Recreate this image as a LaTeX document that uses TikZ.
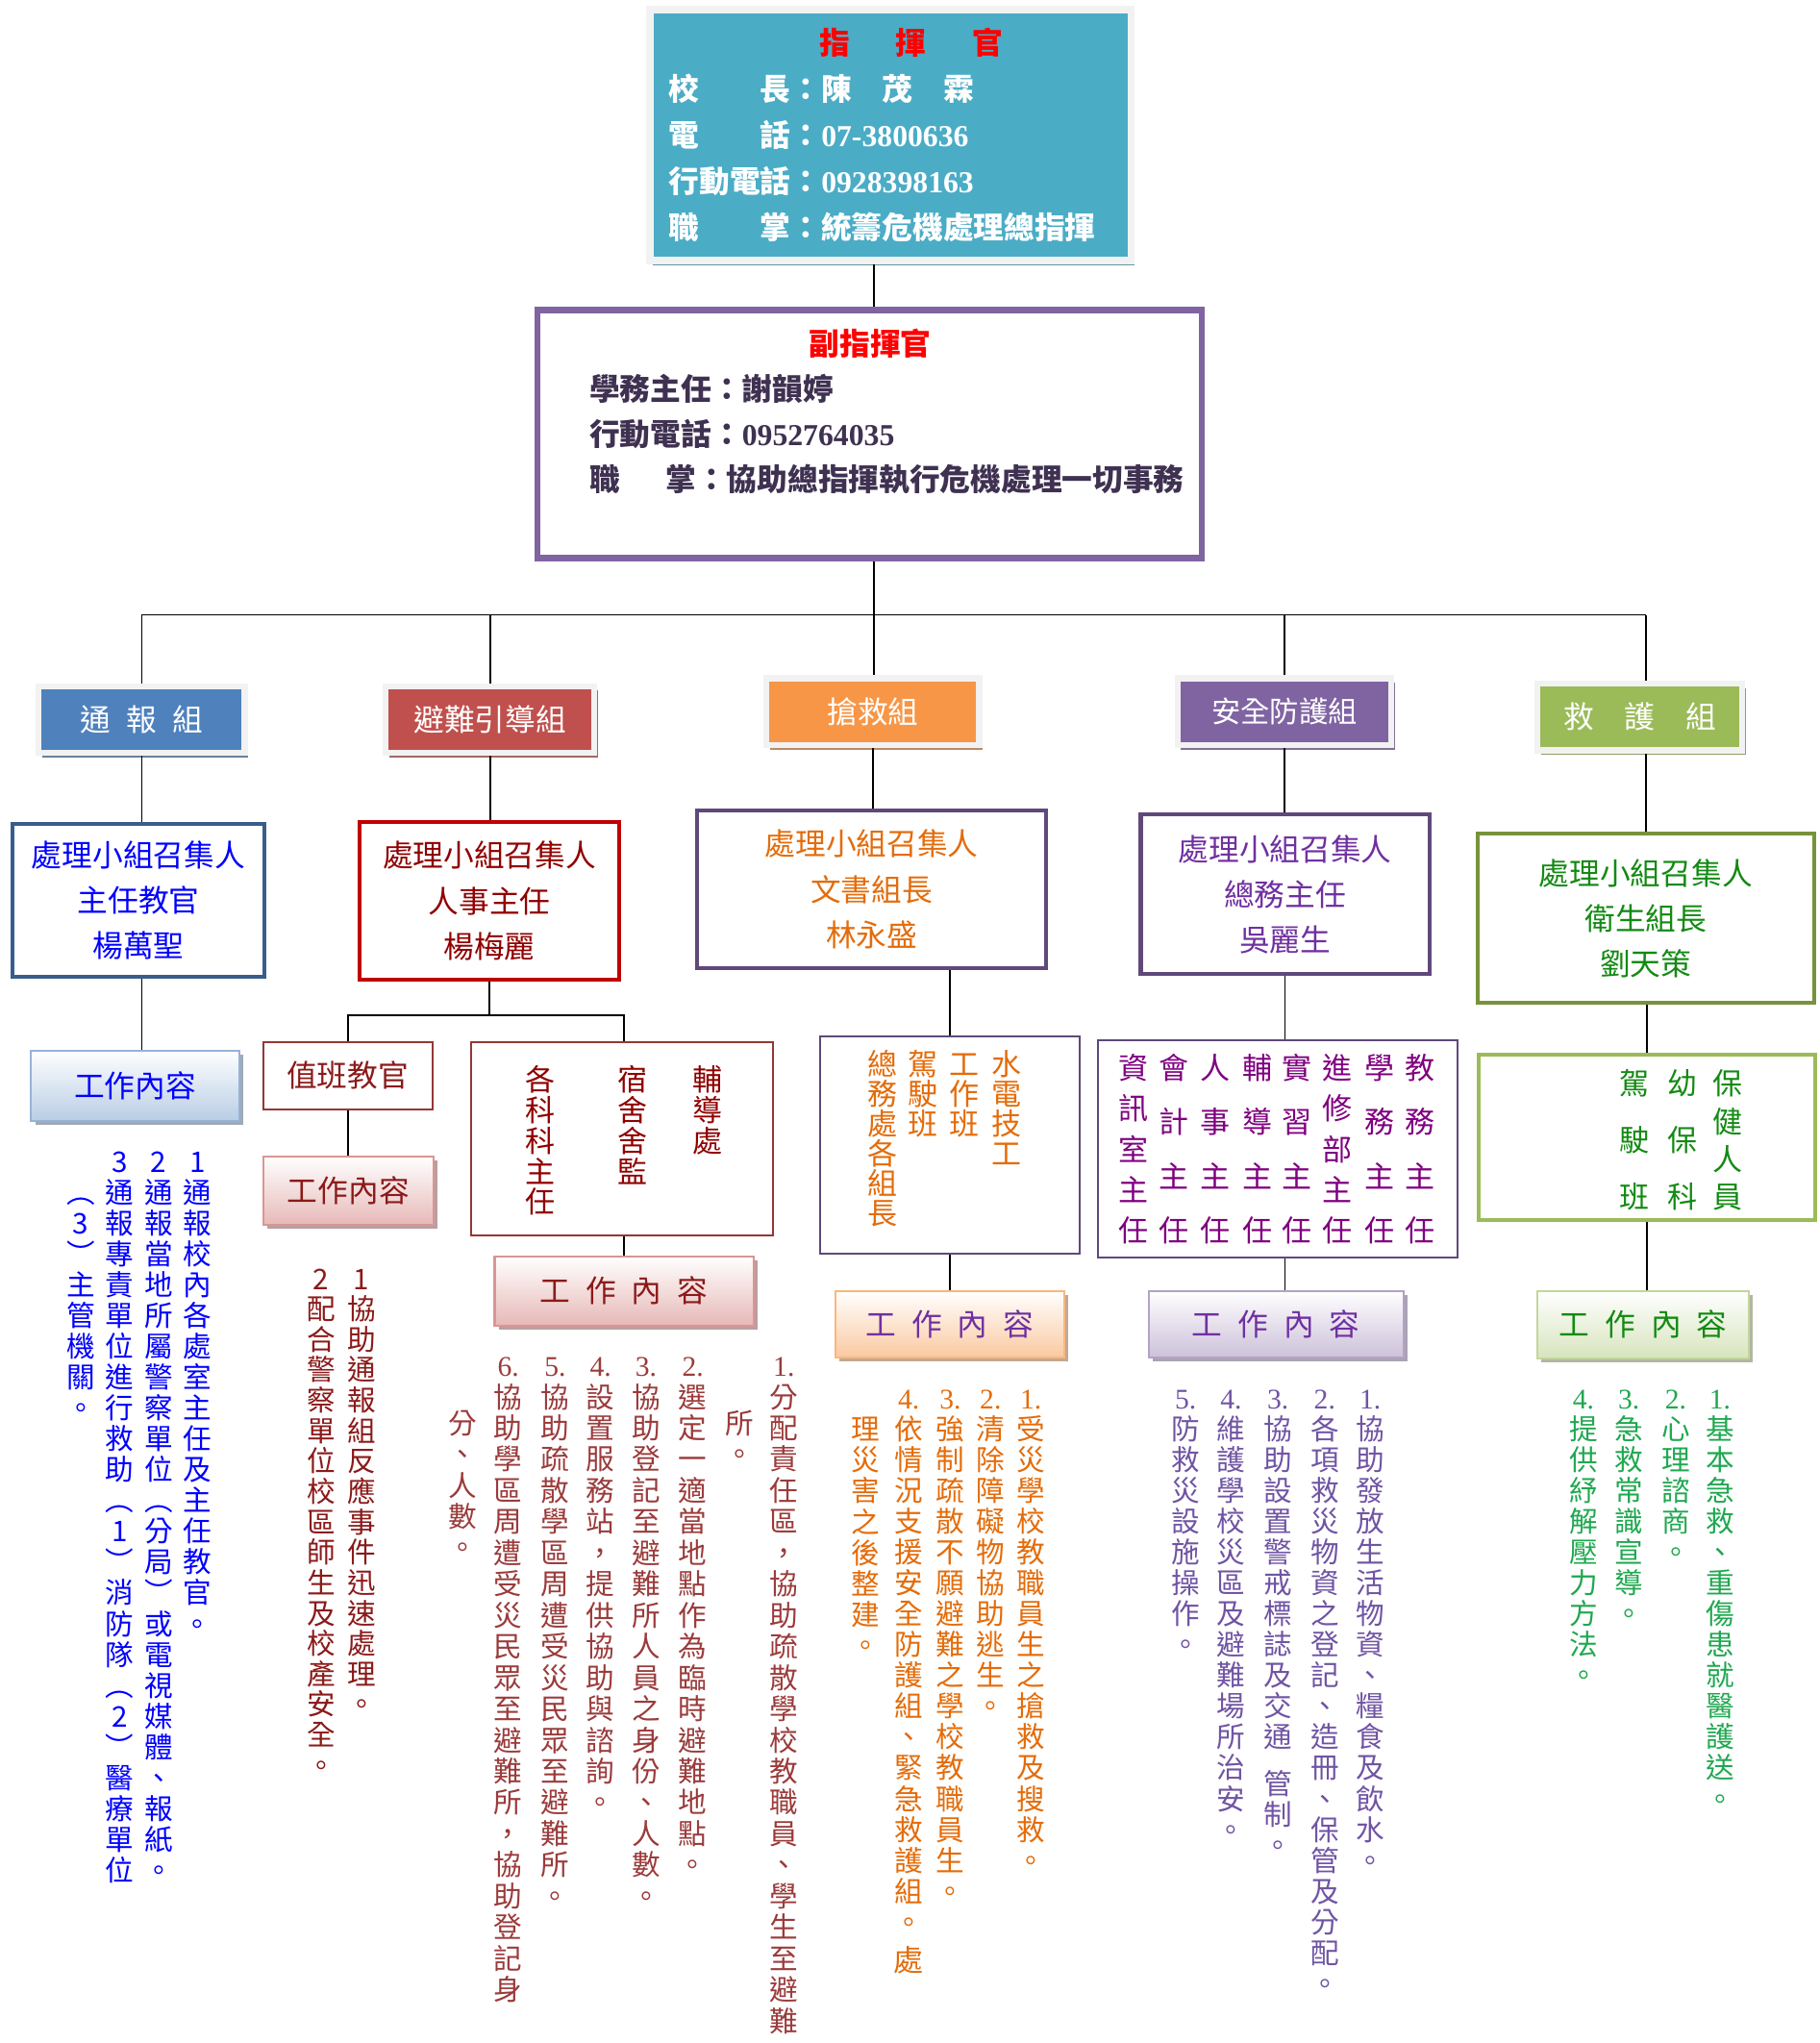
\documentclass[tikz,border=0pt]{standalone}
\usepackage{fontspec}
\setmainfont{Noto Sans CJK TC}
\newfontfamily\tnr{Liberation Serif}
\usetikzlibrary{shadows}

\definecolor{cmdTeal}{HTML}{4BACC6}
\definecolor{cmdRed}{HTML}{FF0000}
\definecolor{frameGray}{HTML}{F2F2F2}
\definecolor{depPurple}{HTML}{8064A2}
\definecolor{depText}{HTML}{3F3151}
\definecolor{grpBlue}{HTML}{4F81BD}
\definecolor{grpRed}{HTML}{C0504D}
\definecolor{grpOrange}{HTML}{F79646}
\definecolor{grpPurple}{HTML}{8064A2}
\definecolor{grpGreen}{HTML}{9BBB59}
\definecolor{convBlue}{HTML}{385D8A}
\definecolor{convRed}{HTML}{C00000}
\definecolor{convPurple}{HTML}{5F497A}
\definecolor{convGreen}{HTML}{77933C}
\definecolor{txtBlue}{HTML}{0000FF}
\definecolor{txtDRed}{HTML}{900000}
\definecolor{txtOrange}{HTML}{E46C0A}
\definecolor{txtPurple}{HTML}{7030A0}
\definecolor{txtGreen}{HTML}{138A13}
\definecolor{subRed}{HTML}{953735}
\definecolor{subMagenta}{HTML}{800080}
\definecolor{subGreen}{HTML}{9BBB59}
\definecolor{zhiRed}{HTML}{8B1A1A}
\definecolor{listRed}{HTML}{9B3B3B}
\definecolor{listPurple}{HTML}{7054A4}
\definecolor{listGreen}{HTML}{20A850}
\definecolor{wkBlueD}{HTML}{95B3D7}
\definecolor{wkBlueL}{HTML}{B9CDE5}
\definecolor{wkRedD}{HTML}{D99694}
\definecolor{wkRedL}{HTML}{E6B9B8}
\definecolor{wkOrangeD}{HTML}{F9B77E}
\definecolor{wkOrangeL}{HTML}{FAC9A1}
\definecolor{wkPurpleD}{HTML}{B3A2C7}
\definecolor{wkPurpleL}{HTML}{CCC1DA}
\definecolor{wkGreenD}{HTML}{C3D69B}
\definecolor{wkGreenL}{HTML}{D7E4BD}

\newlength\pu
\setlength\pu{0.3837pt}
\newlength\cellh
\def\vcolstop{VCOLSTOP}
\def\vhalf{VHALF}
% 直排文字
\newcommand\vcol[2][23.7\pu]{\vbox{\offinterlineskip\setlength\cellh{#1}\vcolA#2\vcolstop\unskip}}
\def\vcolA#1{%
  \ifx\vcolstop#1\let\vcnext\relax
  \else
    \ifx\vhalf#1\vskip.5\cellh\relax
    \else\hbox to 1.2em{\hss\vrule width 0pt height .88em depth .12em\relax#1\hss}%
      \vskip\dimexpr\cellh-1em\relax\relax
    \fi
    \let\vcnext\vcolA
  \fi\vcnext}

\tikzset{
  conn/.style={draw=black, line width=1.3\pu},
  cmdbox/.style={draw=frameGray, line width=5.5\pu, fill=cmdTeal, minimum width=370\pu, minimum height=193\pu,
    drop shadow={shadow xshift=2.5\pu, shadow yshift=-3.5\pu, fill=cmdTeal!50!gray, opacity=1}},
  cmdtext/.style={inner sep=0pt, align=left, text=white, font=\fontsize{9pt}{13.6pt}\selectfont\bfseries},
  depbox/.style={draw=depPurple, line width=5\pu, fill=white, minimum width=511\pu, minimum height=191\pu},
  deptext/.style={inner sep=0pt, align=left, text=depText, font=\fontsize{9pt}{13.4pt}\selectfont\bfseries},
  grp/.style={draw=frameGray, line width=4.5\pu, fill=#1, text=white, inner sep=0pt,
    minimum width=159\pu, minimum height=51.5\pu, font=\fontsize{9pt}{9pt}\selectfont,
    drop shadow={shadow xshift=2.5\pu, shadow yshift=-3.5\pu, fill=#1!50!gray, opacity=1}},
  conv/.style={draw=#1, line width=3\pu, fill=white, align=center, inner sep=0pt,
    font=\fontsize{9pt}{13.4pt}\selectfont},
  work/.style n args={3}{draw=#1, line width=1.5\pu, top color=white, bottom color=#2, text=#3,
    inner sep=0pt, font=\fontsize{9pt}{9pt}\selectfont,
    drop shadow={shadow xshift=3\pu, shadow yshift=-3\pu, fill=#2!55!gray, opacity=1}},
  subbox/.style={draw=#1, line width=1.5\pu, fill=white, inner sep=0pt},
  vt/.style={anchor=north, inner sep=0pt, text=#1, font=\fontsize{8.4pt}{8.4pt}\selectfont},
  vs/.style={anchor=north, inner sep=0pt, text=#1, font=\fontsize{8.8pt}{8.8pt}\selectfont},
}

\begin{document}
\begin{tikzpicture}[x=0.3837pt, y=-0.3837pt]
\useasboundingbox[fill=white] (0,0) rectangle (1400,1571.6);

% 指揮官
\node[cmdbox] (cmdBox) at (685,104) {};
\node[cmdtext, anchor=north west] (cmdText) at (514,21.3) {\hspace*{116\pu}\textcolor{cmdRed}{指\hspace{1.5em}揮\hspace{1.5em}官}\\
  校　　長：陳　茂　霖\\
  電　　話：{\tnr\bfseries 07-3800636}\\
  行動電話：{\tnr\bfseries 0928398163}\\
  職　　掌：統籌危機處理總指揮};

% 副指揮官
\node[depbox] (deputy) at (669,334) {};
\node[deptext, anchor=north west] (depText) at (453,252.3) {\hspace*{169\pu}\textcolor{cmdRed}{副指揮官}\\
  學務主任：謝韻婷\\
  行動電話：{\tnr\bfseries 0952764035}\\
  職\hspace{1.5em}掌：協助總指揮執行危機處理一切事務};

\coordinate (spine) at (672,0);
\coordinate (bus) at (0,473);
\coordinate (subbus) at (0,781);

% 五個組
\node[grp=grpBlue, minimum width=158.5\pu] (tongbao) at (109,553.5) {通\hspace{.5em}報\hspace{.5em}組};
\node[grp=grpRed, minimum width=160.5\pu] (binan) at (377,553.5) {避難引導組};
\node[grp=grpOrange, minimum width=163.5\pu] (qiangjiu) at (671.5,547.5) {搶救組};
\node[grp=grpPurple, minimum width=164.5\pu, font=\fontsize{8.6pt}{8.6pt}\selectfont] (anquan) at (988,547.5) {安全防護組};
\node[grp=grpGreen, minimum width=157.5\pu] (jiuhu) at (1261.5,551.5) {救\hspace{1em}護\hspace{1em}組};

% 召集人
\node[conv=convBlue, text=txtBlue, minimum width=194\pu, minimum height=118\pu] (tongbaoC) at (106.5,692.5) {處理小組召集人\\主任教官\\楊萬聖};
\node[conv=convRed, text=txtDRed, minimum width=200\pu, minimum height=121\pu] (binanC) at (376.5,693) {處理小組召集人\\人事主任\\楊梅麗};
\node[conv=convPurple, text=txtOrange, minimum width=268\pu, minimum height=121\pu] (qiangjiuC) at (670.5,684) {處理小組召集人\\文書組長\\林永盛};
\node[conv=convPurple, text=txtPurple, minimum width=222\pu, minimum height=123\pu] (anquanC) at (988.5,688) {處理小組召集人\\總務主任\\吳麗生};
\node[conv=convGreen, text=txtGreen, minimum width=259\pu, minimum height=130\pu] (jiuhuC) at (1266,706.5) {處理小組召集人\\衛生組長\\劉天策};

% 下層方塊
\node[work={wkBlueD}{wkBlueL}{txtBlue}, minimum width=160\pu, minimum height=54\pu] (tbWork) at (104,835) {工作內容};
\node[subbox=subRed, text=zhiRed, font=\fontsize{9pt}{9pt}\selectfont, minimum width=130\pu, minimum height=52\pu] (zbBox) at (267.5,827.5) {值班教官};
\node[work={wkRedD}{wkRedL}{zhiRed}, minimum width=131\pu, minimum height=53\pu] (zbWork) at (268,916) {工作內容};
\node[subbox=subRed, minimum width=232\pu, minimum height=148\pu] (bnBig) at (478.5,876) {};
\node[work={wkRedD}{wkRedL}{zhiRed}, minimum width=199\pu, minimum height=53\pu] (bnWork) at (480,993) {工\hspace{.5em}作\hspace{.5em}內\hspace{.5em}容};
\node[subbox=convPurple, minimum width=200\pu, minimum height=167\pu] (qjSub) at (730.5,881) {};
\node[work={wkOrangeD}{wkOrangeL}{txtPurple}, minimum width=176\pu, minimum height=51\pu] (qjWork) at (730.5,1018.5) {工\hspace{.5em}作\hspace{.5em}內\hspace{.5em}容};
\node[subbox=convPurple, minimum width=277\pu, minimum height=167\pu] (asSub) at (983,884) {};
\node[work={wkPurpleD}{wkPurpleL}{txtPurple}, minimum width=196\pu, minimum height=51\pu] (asWork) at (981.5,1018.5) {工\hspace{.5em}作\hspace{.5em}內\hspace{.5em}容};
\node[subbox=subGreen, line width=3\pu, minimum width=259\pu, minimum height=127\pu] (jhSub) at (1267,875) {};
\node[work={wkGreenD}{wkGreenL}{txtGreen}, minimum width=163\pu, minimum height=52\pu] (jhWork) at (1264,1019) {工\hspace{.5em}作\hspace{.5em}內\hspace{.5em}容};

% 連線
\draw[conn] (cmdBox.south -| spine) -- (deputy.north -| spine);
\draw[conn] (deputy.south -| spine) -- (qiangjiu.north -| spine);
\draw[conn] (tongbao.north |- bus) -- (jiuhuC.north |- bus);
\draw[conn] (tongbao.north) -- (tongbao.north |- bus);
\draw[conn] (binan.north) -- (binan.north |- bus);
\draw[conn] (anquan.north) -- (anquan.north |- bus);
\draw[conn] (jiuhuC.north |- jiuhu.north) -- (jiuhuC.north |- bus);
\draw[conn] (tongbao.south) -- (tongbao.south |- tongbaoC.north);
\draw[conn] (binan.south) -- (binan.south |- binanC.north);
\draw[conn] (qiangjiu.south) -- (qiangjiu.south |- qiangjiuC.north);
\draw[conn] (anquan.south) -- (anquan.south |- anquanC.north);
\draw[conn] (jiuhuC.north) -- (jiuhuC.north |- jiuhu.south);
\draw[conn] (tongbao.south |- tongbaoC.south) -- (tongbao.south |- tbWork.north);
\draw[conn] (binanC.south) -- (binanC.south |- subbus);
\draw[conn] (zbBox.north) -- (zbBox.north |- subbus) -- (bnWork.north |- subbus) -- (bnWork.north |- bnBig.north);
\draw[conn] (zbBox.south) -- (zbBox.south |- zbWork.north);
\draw[conn] (bnWork.north |- bnBig.south) -- (bnWork.north);
\draw[conn] (qjSub.north) -- (qjSub.north |- qiangjiuC.south);
\draw[conn] (qjSub.south) -- (qjSub.south |- qjWork.north);
\draw[conn] (anquanC.south) -- (anquanC.south |- asSub.north);
\draw[conn] (anquanC.south |- asSub.south) -- (anquanC.south |- asWork.north);
\draw[conn] (jhSub.north) -- (jhSub.north |- jiuhuC.south);
\draw[conn] (jhSub.south) -- (jhSub.south |- jhWork.north);

% 方塊內直排
\node[vs=txtDRed] (bnCol1) at (416,818.5) {\vcol[23.5\pu]{各科科主任}};
\node[vs=txtDRed] (bnCol2) at (487,818.5) {\vcol[23.5\pu]{宿舍舍監}};
\node[vs=txtDRed] (bnCol3) at (544,818.5) {\vcol[23.5\pu]{輔導處}};
\node[vs=txtOrange] (qjCol1) at (774,806.5) {\vcol[23\pu]{水電技工}};
\node[vs=txtOrange] (qjCol2) at (742,806.5) {\vcol[23\pu]{工作班}};
\node[vs=txtOrange] (qjCol3) at (710,806.5) {\vcol[23\pu]{駕駛班}};
\node[vs=txtOrange] (qjCol4) at (679,806.5) {\vcol[23\pu]{總務處各組長}};
\node[vs=subMagenta] (asCol1) at (1092,809.5) {\vcol[41.7\pu]{教務主任}};
\node[vs=subMagenta] (asCol2) at (1061,809.5) {\vcol[41.7\pu]{學務主任}};
\node[vs=subMagenta] (asCol3) at (1029,809.5) {\vcol[31.25\pu]{進修部主任}};
\node[vs=subMagenta] (asCol4) at (998,809.5) {\vcol[41.7\pu]{實習主任}};
\node[vs=subMagenta] (asCol5) at (967,809.5) {\vcol[41.7\pu]{輔導主任}};
\node[vs=subMagenta] (asCol6) at (935,809.5) {\vcol[41.7\pu]{人事主任}};
\node[vs=subMagenta] (asCol7) at (903,809.5) {\vcol[41.7\pu]{會計主任}};
\node[vs=subMagenta] (asCol8) at (872,809.5) {\vcol[31.25\pu]{資訊室主任}};
\node[vs=txtGreen] (jhCol1) at (1329,821.5) {\vcol[29\pu]{保健人員}};
\node[vs=txtGreen] (jhCol2) at (1294,821.5) {\vcol[43.5\pu]{幼保科}};
\node[vs=txtGreen] (jhCol3) at (1257,821.5) {\vcol[43.5\pu]{駕駛班}};

% 工作內容 直排
\node[vt=txtBlue] (tbList1) at (152,882) {\vcol{1通報校內各處室主任及主任教官。}};
\node[vt=txtBlue] (tbList2) at (122,882) {\vcol{2通報當地所屬警察單位︵分局︶或電視媒體、報紙。}};
\node[vt=txtBlue] (tbList3) at (92,882) {\vcol{3通報專責單位進行救助︵1︶消防隊︵2︶醫療單位}};
\node[vt=txtBlue] (tbList4) at (62,905.7) {\vcol{︵3︶主管機關。}};

\node[vt=zhiRed] (zbList1) at (278,972) {\vcol[23.4\pu]{1協助通報組反應事件迅速處理。}};
\node[vt=zhiRed] (zbList2) at (247,972) {\vcol[23.4\pu]{2配合警察單位校區師生及校產安全。}};

\node[vt=listRed] (bnList1) at (603,1039) {\vcol[24\pu]{{\tnr 1.}分配責任區，協助疏散學校教職員、學生至避難}};
\node[vt=listRed] (bnList1b) at (569,1083) {\vcol[24\pu]{所。}};
\node[vt=listRed] (bnList2) at (533,1039) {\vcol[24\pu]{{\tnr 2.}選定一適當地點作為臨時避難地點。}};
\node[vt=listRed] (bnList3) at (497,1039) {\vcol[24\pu]{{\tnr 3.}協助登記至避難所人員之身份、人數。}};
\node[vt=listRed] (bnList4) at (462,1039) {\vcol[24\pu]{{\tnr 4.}設置服務站，提供協助與諮詢。}};
\node[vt=listRed] (bnList5) at (427,1039) {\vcol[24\pu]{{\tnr 5.}協助疏散學區周遭受災民眾至避難所。}};
\node[vt=listRed] (bnList6) at (391,1039) {\vcol[24\pu]{{\tnr 6.}協助學區周遭受災民眾至避難所，協助登記身}};
\node[vt=listRed] (bnList6b) at (356,1083) {\vcol[24\pu]{分、人數。}};

\node[vt=txtOrange] (qjList1) at (793,1064) {\vcol{{\tnr 1.}受災學校教職員生之搶救及搜救。}};
\node[vt=txtOrange] (qjList2) at (762,1064) {\vcol{{\tnr 2.}清除障礙物協助逃生。}};
\node[vt=txtOrange] (qjList3) at (731,1064) {\vcol{{\tnr 3.}強制疏散不願避難之學校教職員生。}};
\node[vt=txtOrange] (qjList4) at (699,1064) {\vcol{{\tnr 4.}依情況支援安全防護組、緊急救護組。}};
\node[vs=txtOrange] (qjList4b) at (699,1496) {\vcol{處}};
\node[vt=txtOrange] (qjList5) at (666,1088) {\vcol{理災害之後整建。}};

\node[vt=listPurple] (asList1) at (1054,1064) {\vcol{{\tnr 1.}協助發放生活物資、糧食及飲水。}};
\node[vt=listPurple] (asList2) at (1019,1064) {\vcol{{\tnr 2.}各項救災物資之登記、造冊、保管及分配。}};
\node[vt=listPurple] (asList3) at (983,1064) {\vcol{{\tnr 3.}協助設置警戒標誌及交通\vhalf 管制。}};
\node[vt=listPurple] (asList4) at (947,1064) {\vcol{{\tnr 4.}維護學校災區及避難場所治安。}};
\node[vt=listPurple] (asList5) at (912,1064) {\vcol{{\tnr 5.}防救災設施操作。}};

\node[vt=listGreen] (jhList1) at (1323,1064) {\vcol{{\tnr 1.}基本急救、重傷患就醫護送。}};
\node[vt=listGreen] (jhList2) at (1289,1064) {\vcol{{\tnr 2.}心理諮商。}};
\node[vt=listGreen] (jhList3) at (1253,1064) {\vcol{{\tnr 3.}急救常識宣導。}};
\node[vt=listGreen] (jhList4) at (1218,1064) {\vcol{{\tnr 4.}提供紓解壓力方法。}};
\end{tikzpicture}
\end{document}
